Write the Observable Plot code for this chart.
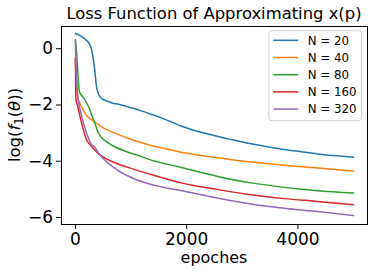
<!DOCTYPE html>
<html>
<head>
<meta charset="utf-8">
<script src="https://cdn.jsdelivr.net/npm/d3@7"></script>
<script src="https://cdn.jsdelivr.net/npm/@observablehq/plot@0.6"></script>
<style>
  html, body { margin: 0; padding: 0; background: #fff; }
  #chart svg { display: block; }
</style>
</head>
<body>
<div id="chart"></div>
<script>
// ---- data ----
const seriesNames = ["N = 20", "N = 40", "N = 80", "N = 160", "N = 320"];
const seriesColors = ["#1f77b4", "#ff7f0e", "#2ca02c", "#d62728", "#9467bd"];
const xTicks = [0, 2000, 4000];
const yTicks = [0, -2, -4, -6];

const epochsN20 = [0, 100, 185, 250, 290, 320, 346, 377, 418, 466, 526, 646, 825, 1004, 1184, 1363, 1543, 1722, 1900, 2081, 2260, 2439, 2620, 2798, 3157, 3500, 3755, 4050, 4353, 4650, 5000];
const lossN20   = [0.54, 0.45, 0.32, 0.18, -0.02, -0.35, -0.73, -1.32, -1.62, -1.76, -1.83, -1.92, -2.00, -2.10, -2.21, -2.33, -2.46, -2.60, -2.75, -2.87, -2.97, -3.06, -3.15, -3.23, -3.38, -3.50, -3.58, -3.66, -3.74, -3.80, -3.86];

const epochsN40 = [0, 8, 15, 30, 60, 108, 167, 220, 287, 346, 470, 646, 825, 1004, 1363, 1722, 1961, 2560, 3157, 3755, 4353, 5000];
const lossN40   = [-0.35, -0.9, -1.25, -1.60, -1.85, -2.05, -2.28, -2.42, -2.52, -2.60, -2.78, -2.95, -3.10, -3.23, -3.44, -3.60, -3.70, -3.88, -4.03, -4.14, -4.24, -4.35];

const epochsN80 = [0, 20, 36, 60, 78, 120, 167, 210, 257, 300, 346, 407, 466, 526, 676, 945, 1124, 1363, 1901, 2560, 3157, 3755, 4353, 5000];
const lossN80   = [0.32, -0.1, -0.6, -1.35, -1.56, -1.68, -1.80, -1.96, -2.15, -2.40, -2.62, -2.97, -3.15, -3.26, -3.45, -3.68, -3.79, -3.96, -4.22, -4.54, -4.77, -4.93, -5.05, -5.13];

const epochsN160 = [0, 4, 8, 48, 108, 160, 197, 257, 346, 420, 526, 646, 945, 1304, 1901, 2560, 3157, 3755, 4353, 5000];
const lossN160   = [-0.3, -1.2, -1.75, -2.10, -2.62, -3.00, -3.22, -3.40, -3.60, -3.74, -3.88, -4.00, -4.22, -4.44, -4.77, -5.01, -5.19, -5.33, -5.43, -5.55];

const epochsN320 = [0, 5, 10, 25, 48, 78, 138, 200, 287, 346, 420, 526, 765, 1064, 1363, 1961, 2560, 3157, 3755, 4353, 5000];
const lossN320   = [0.30, -0.1, -0.5, -1.2, -1.80, -2.10, -2.60, -3.00, -3.40, -3.50, -3.72, -3.96, -4.33, -4.63, -4.83, -5.07, -5.31, -5.52, -5.67, -5.79, -5.93];

const allEpochs = [epochsN20, epochsN40, epochsN80, epochsN160, epochsN320];
const allLoss = [lossN20, lossN40, lossN80, lossN160, lossN320];

const table = [];
seriesNames.forEach((name, i) => {
  allEpochs[i].forEach((e, j) => table.push({series: name, epoch: e, loss: allLoss[i][j]}));
});

const W = 374, H = 274;
const mL = 61, mR = 7, mT = 26, mB = 50;
const font = "DejaVu Sans, sans-serif";

const chart = Plot.plot({
  width: W, height: H,
  marginLeft: mL, marginRight: mR, marginTop: mT, marginBottom: mB,
  style: {fontFamily: font, background: "#fff", color: "#000"},
  x: {domain: [-250, 5250], label: null},
  y: {domain: [-6.25, 0.79], label: null},
  color: {domain: seriesNames, range: seriesColors},
  marks: [
    Plot.line(table, {x: "epoch", y: "loss", z: "series", stroke: "series", strokeWidth: 1.5, curve: "monotone-x"}),
    Plot.frame({stroke: "#000", strokeWidth: 1}),
    Plot.axisX({ticks: xTicks, tickSize: 5, tickPadding: 3.5, fontSize: 17, label: null, stroke: "#000",
      tickFormat: d => String(d)}),
    Plot.axisY({ticks: yTicks, tickSize: 5, tickPadding: 3.5, fontSize: 17, label: null, stroke: "#000",
      tickFormat: d => d < 0 ? "\u2212" + Math.abs(d) : String(d)})
  ]
});

document.getElementById("chart").appendChild(chart);
const svg = d3.select(chart);

// title
svg.append("text")
  .attr("x", (mL + (W - mR)) / 2).attr("y", 19)
  .attr("text-anchor", "middle")
  .attr("font-family", font).attr("font-size", 16.4).attr("fill", "#000")
  .text("Loss Function of Approximating x(p)");

// x label
svg.append("text")
  .attr("x", (mL + (W - mR)) / 2).attr("y", 262.5)
  .attr("text-anchor", "middle")
  .attr("font-family", font).attr("font-size", 16).attr("fill", "#000")
  .text("epoches");

// y label: log(f_1(θ))
const yl = svg.append("text")
  .attr("transform", `translate(20,${(mT + (H - mB)) / 2}) rotate(-90)`)
  .attr("text-anchor", "middle")
  .attr("font-family", font).attr("font-size", 16.5).attr("fill", "#000");
yl.append("tspan").text("log(");
yl.append("tspan").attr("font-style", "italic").text("f");
yl.append("tspan").attr("font-size", 11.5).attr("dy", 3).text("1");
yl.append("tspan").attr("dy", -3).text("(");
yl.append("tspan").attr("font-style", "italic").text("θ");
yl.append("tspan").text("))");

// legend
const lg = svg.append("g");
lg.append("rect")
  .attr("x", 269).attr("y", 30.7).attr("width", 92.5).attr("height", 90)
  .attr("rx", 3).attr("fill", "#fff").attr("fill-opacity", 0.8)
  .attr("stroke", "#cccccc").attr("stroke-width", 1);
seriesNames.forEach((name, i) => {
  const cy = 40.3 + i * 17.2;
  lg.append("line").attr("x1", 273.3).attr("x2", 298.3).attr("y1", cy).attr("y2", cy)
    .attr("stroke", seriesColors[i]).attr("stroke-width", 1.5);
  lg.append("text").attr("x", 307.7).attr("y", cy + 4.3)
    .attr("text-anchor", "start")
    .attr("font-family", font).attr("font-size", 11.8).attr("fill", "#000")
    .text(name);
});
</script>
</body>
</html>
